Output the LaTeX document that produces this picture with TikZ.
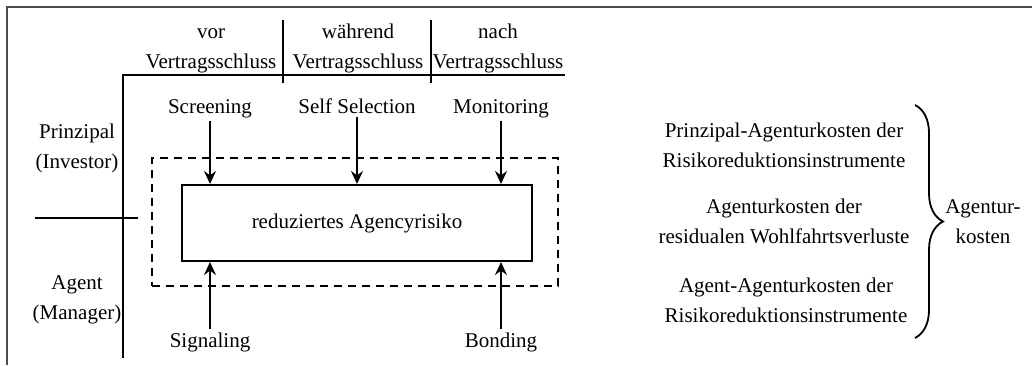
\documentclass[tikz,border=0pt]{standalone}
\usepackage{fontspec}
\setmainfont{Liberation Serif}
\usetikzlibrary{arrows.meta, calc, positioning, decorations.pathreplacing}

\begin{document}
\begin{tikzpicture}
	[x=0.5pt, y=-0.5pt,
	font=\fontsize{10.5}{15}\selectfont,
	txt/.style={align=center, anchor=base, inner sep=1.5pt},
	risk/.style={draw, line width=1pt, minimum width=175pt, minimum height=38pt, inner sep=0pt},
	zone/.style={draw, dashed, dash pattern=on 4pt off 3pt, line width=0.9pt, minimum width=203pt, minimum height=64pt},
	axis/.style={line width=0.9pt},
	flow/.style={line width=0.9pt, -{Stealth[length=6.5pt, width=6pt, inset=2.2pt]}}]
	\useasboundingbox (0,0) rectangle (1032,365);

	% frame
	\draw[line width=1.3pt, black!70] (7,365) -- (7,7) -- (1032,7);

	% time axis (two-line labels sit on their last baseline)
	\coordinate (corner) at (123,75);
	\coordinate (axisend) at (565,75);
	\coordinate (axisbottom) at (123,358);
	\draw[axis] (axisbottom) -- (corner) -- (axisend);
	\draw[axis] (283,20) -- (283,83);
	\draw[axis] (431,20) -- (431,83);
	\node[txt] (vor) at (211,68) {vor\\Vertragsschluss};
	\node[txt] (waehrend) at (358,68) {während\\Vertragsschluss};
	\node[txt] (nach) at (498,68) {nach\\Vertragsschluss};

	% parties
	\node[txt] (prinzipal) at (77,168) {Prinzipal\\(Investor)};
	\node[txt] (agent) at (77,319) {Agent\\(Manager)};
	\draw[axis] (35,218) -- (138,218);

	% instruments
	\node[risk] (risk) at (357,223) {reduziertes Agencyrisiko};
	\node[zone] (zone) at (355,222) {};
	\node[txt] (screening) at (210,113) {Screening};
	\node[txt] (selfsel) at (357,113) {Self Selection};
	\node[txt] (monitoring) at (501,113) {Monitoring};
	\node[txt] (signaling) at (210,347) {Signaling};
	\node[txt] (bonding) at (501,347) {Bonding};

	\draw[flow] (screening) -- (screening |- risk.north);
	\draw[flow] (selfsel) -- (selfsel |- risk.north);
	\draw[flow] (monitoring) -- (monitoring |- risk.north);
	\draw[flow] (signaling) -- (signaling |- risk.south);
	\draw[flow] (bonding) -- (bonding |- risk.south);

	% costs
	\node[txt] (pakosten) at (784,167) {Prinzipal-Agenturkosten der\\Risikoreduktionsinstrumente};
	\node[txt] (wohlfahrt) at (784,243) {Agenturkosten der\\residualen Wohlfahrtsverluste};
	\node[txt] (aakosten) at (786,322) {Agent-Agenturkosten der\\Risikoreduktionsinstrumente};
	\coordinate (bracetop) at (915,105);
	\coordinate (bracebottom) at (915,338);
	\draw[line width=0.9pt, decorate, decoration={brace, amplitude=14pt}] (bracetop) -- (bracebottom);
	\node[txt] (agkosten) at (983,243) {Agentur-\\kosten};
\end{tikzpicture}
\end{document}
